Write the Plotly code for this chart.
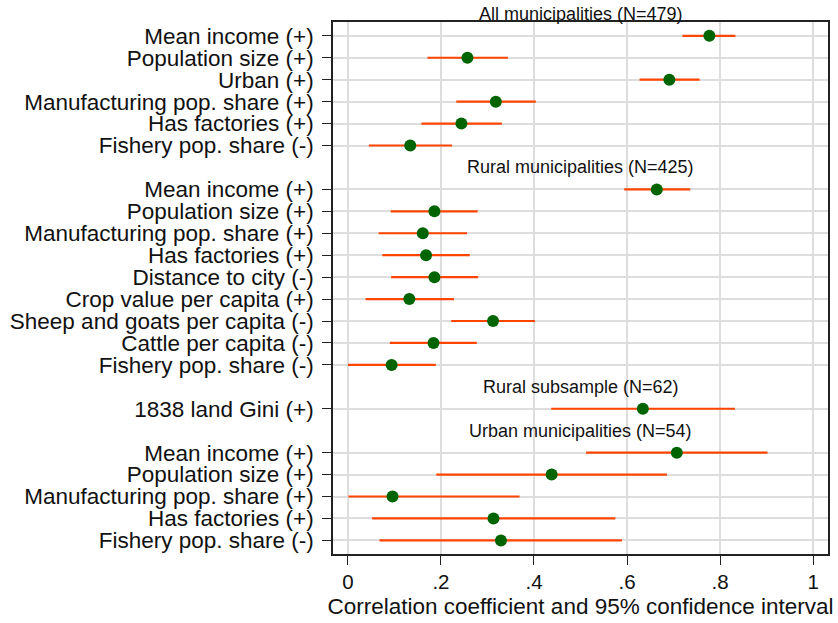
import plotly.graph_objects as go

# ---- data ----
group_titles = ["All municipalities (N=479)", "Rural municipalities (N=425)",
                "Rural subsample (N=62)", "Urban municipalities (N=54)"]

labels_all = ["Mean income (+)", "Population size (+)", "Urban (+)",
              "Manufacturing pop. share (+)", "Has factories (+)", "Fishery pop. share (-)"]
coef_all = [0.777, 0.257, 0.691, 0.318, 0.244, 0.134]
lo_all = [0.719, 0.171, 0.627, 0.233, 0.158, 0.045]
hi_all = [0.833, 0.344, 0.756, 0.404, 0.331, 0.224]

labels_rural = ["Mean income (+)", "Population size (+)", "Manufacturing pop. share (+)",
                "Has factories (+)", "Distance to city (-)", "Crop value per capita (+)",
                "Sheep and goats per capita (-)", "Cattle per capita (-)", "Fishery pop. share (-)"]
coef_rural = [0.664, 0.186, 0.161, 0.168, 0.186, 0.132, 0.312, 0.184, 0.094]
lo_rural = [0.594, 0.092, 0.066, 0.074, 0.093, 0.038, 0.222, 0.090, 0.000]
hi_rural = [0.736, 0.279, 0.256, 0.262, 0.280, 0.228, 0.402, 0.277, 0.189]

labels_sub = ["1838 land Gini (+)"]
coef_sub = [0.634]
lo_sub = [0.437]
hi_sub = [0.832]

labels_urban = ["Mean income (+)", "Population size (+)", "Manufacturing pop. share (+)",
                "Has factories (+)", "Fishery pop. share (-)"]
coef_urban = [0.707, 0.438, 0.096, 0.313, 0.329]
lo_urban = [0.512, 0.190, 0.001, 0.052, 0.068]
hi_urban = [0.902, 0.686, 0.369, 0.575, 0.589]

xticks = [0, 0.2, 0.4, 0.6, 0.8, 1]
xticktext = ["0", ".2", ".4", ".6", ".8", "1"]

# ---- build rows (a title row precedes each group) ----
groups = [
    (labels_all, coef_all, lo_all, hi_all),
    (labels_rural, coef_rural, lo_rural, hi_rural),
    (labels_sub, coef_sub, lo_sub, hi_sub),
    (labels_urban, coef_urban, lo_urban, hi_urban),
]
rows, labs, coefs, los, his, title_rows = [], [], [], [], [], []
r = 0
for g in groups:
    title_rows.append(r)
    r += 1
    for lab, c, lo, hi in zip(*g):
        rows.append(r); labs.append(lab); coefs.append(c); los.append(lo); his.append(hi)
        r += 1

YR = [24.62, 0.37]  # reversed y range (row units)

FONT = "Liberation Sans, Arial, Helvetica, sans-serif"
fig = go.Figure()

# CI lines
lx, ly = [], []
for y, lo, hi in zip(rows, los, his):
    lx += [lo, hi, None]
    ly += [y, y, None]
fig.add_trace(go.Scatter(x=lx, y=ly, mode="lines",
                         line=dict(color="rgb(255,69,0)", width=2.2),
                         hoverinfo="skip", showlegend=False))
fig.add_trace(go.Scatter(x=coefs, y=rows, mode="markers",
                         marker=dict(color="rgb(0,100,0)", size=12, line=dict(width=0)),
                         showlegend=False))

for t, tr in zip(group_titles, title_rows):
    py = (YR[0] - tr) / (YR[0] - YR[1])  # row -> paper fraction
    fig.add_annotation(x=0.5, xref="paper", y=py, yref="paper", text=t, showarrow=False,
                       font=dict(family=FONT, size=18, color="#111"),
                       xanchor="center", yanchor="middle")

fig.update_layout(
    width=838, height=623,
    margin=dict(l=333, r=8, t=22, b=64),
    plot_bgcolor="white", paper_bgcolor="white",
    font=dict(family=FONT, color="#111"),
)
fig.update_xaxes(range=[-0.032, 1.032], tickvals=xticks, ticktext=xticktext,
                 showgrid=True, gridcolor="#dddddd", gridwidth=1.5, zeroline=False,
                 showline=True, linecolor="#222", linewidth=1.5, mirror=True,
                 ticks="outside", ticklen=9, tickwidth=1.3, tickcolor="#222",
                 tickfont=dict(size=20.5, family=FONT, color="#111"),
                 title=dict(text="Correlation coefficient and 95% confidence interval",
                            font=dict(size=22.5, family=FONT, color="#111"), standoff=6))
fig.update_yaxes(range=YR, tickvals=rows, ticktext=labs,
                 showgrid=True, gridcolor="#dddddd", gridwidth=1.5, zeroline=False,
                 showline=True, linecolor="#222", linewidth=1.5, mirror=True,
                 ticks="outside", ticklen=9, tickwidth=1.3, tickcolor="#222",
                 ticklabelstandoff=4,
                 tickfont=dict(size=22.5, family=FONT, color="#111"))

fig.write_html("out.html")
